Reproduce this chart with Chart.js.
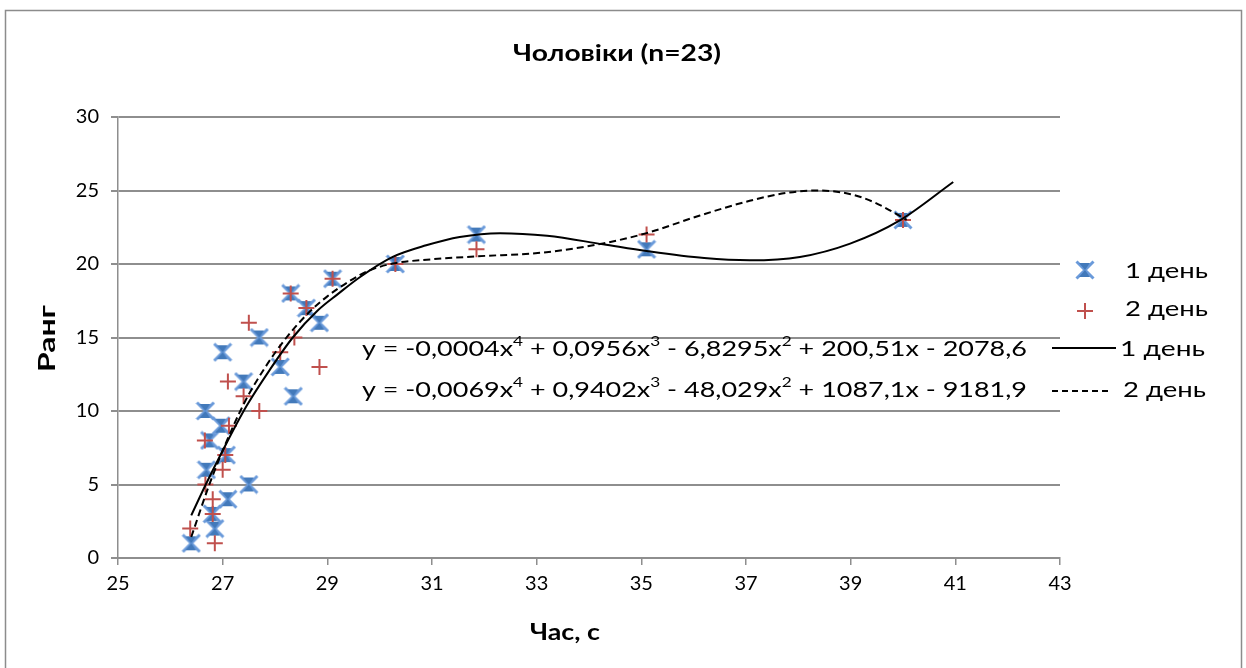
<!DOCTYPE html>
<html>
<head>
<meta charset="utf-8">
<script src="https://cdn.jsdelivr.net/npm/chart.js@4"></script>
<style>
  body { margin: 0; background: #fff; }
  #wrap { width: 1246px; height: 668px; }
</style>
</head>
<body>
<div id="wrap"><canvas id="chart" width="1246" height="668"></canvas></div>
<script>
// ранги 1..23, час у секундах
const ranks = [1,2,3,4,5,6,7,8,9,10,11,12,13,14,15,16,17,18,19,20,21,22,23];
const day1Time = [26.4, 26.85, 26.8, 27.1, 27.5, 26.69, 27.07, 26.75, 26.97, 26.67, 28.35, 27.4, 28.1, 27.0, 27.7, 28.85, 28.6, 28.3, 29.1, 30.3, 35.1, 31.85, 40.0];
const day2Time = [26.85, 26.38, 26.81, 26.81, 26.67, 27.0, 27.05, 26.66, 27.12, 27.7, 27.4, 27.1, 28.85, 28.1, 28.37, 27.5, 28.6, 28.3, 29.1, 30.3, 31.85, 35.1, 40.0];

// лінії тренду
const trend1X = [26.4, 26.67, 27.0, 27.45, 27.9, 28.34, 28.82, 29.2, 29.62, 30.25, 30.89, 31.53, 32.3, 33.2, 34.27, 35.1, 36.2, 37.07, 38.03, 38.99, 39.94, 40.96];
const trend1Y = [2.9, 4.95, 7.3, 10.3, 12.8, 15.0, 16.85, 17.95, 19.1, 20.48, 21.27, 21.84, 22.1, 21.92, 21.34, 20.88, 20.4, 20.25, 20.48, 21.39, 22.97, 25.58];
const trend2X = [26.4, 26.74, 27.0, 27.42, 27.8, 28.22, 28.69, 29.0, 29.43, 29.81, 30.25, 31.0, 31.85, 33.12, 34.27, 35.1, 36.12, 37.07, 37.8, 38.35, 39.0, 39.45, 39.8, 40.07];
const trend2Y = [1.43, 4.95, 7.3, 10.6, 12.9, 15.0, 16.85, 17.8, 18.85, 19.57, 20.03, 20.32, 20.52, 20.78, 21.4, 22.1, 23.3, 24.3, 24.85, 25.0, 24.75, 24.2, 23.55, 23.0];

const xTicks = [25, 43, 2];
const yTicks = [0, 30, 5];

const titleText = "Чоловіки (n=23)";
const xTitle = "Час, с";
const yTitle = "Ранг";
const legendNames = ["1 день", "2 день"];
const eq1 = ["y = -0,0004x", "4", " + 0,0956x", "3", " - 6,8295x", "2", " + 200,51x - 2078,6"];
const eq2 = ["y = -0,0069x", "4", " + 0,9402x", "3", " - 48,029x", "2", " + 1087,1x - 9181,9"];

const BLUE = "#4F81BD";
const RED = "#C0504D";
const GRID = "#8E8E8E";
const FONT = "Lato, 'Open Sans', sans-serif";

function pts(xs, ys){ return xs.map((x, i) => ({ x: x, y: ys[i] })); }

// маркер "X" як в Excel
function makeXMarker(){
  const c = document.createElement("canvas");
  c.width = 20; c.height = 20;
  const g = c.getContext("2d");
  g.strokeStyle = "#6A9ADA";
  g.lineWidth = 3;
  g.beginPath(); g.moveTo(1.5, 1.5); g.lineTo(18.5, 18.5); g.moveTo(18.5, 1.5); g.lineTo(1.5, 18.5); g.stroke();
  g.fillStyle = "#4279BA";
  g.beginPath(); g.moveTo(4, 3); g.lineTo(15, 3); g.lineTo(10, 10); g.closePath(); g.fill();
  g.beginPath(); g.moveTo(4, 17); g.lineTo(15, 17); g.lineTo(10, 10); g.closePath(); g.fill();
  return c;
}
const xMarker = makeXMarker();

// текст, розтягнутий до потрібної ширини
function fitText(ctx, text, x, y, width, font){
  ctx.font = font;
  const w = ctx.measureText(text).width;
  ctx.save();
  ctx.translate(x, y);
  ctx.scale(width / w, 1);
  ctx.fillText(text, 0, 0);
  ctx.restore();
}

function drawEq(ctx, parts, x, y, width){
  const big = "22px " + FONT, small = "14px " + FONT;
  let total = 0;
  parts.forEach((p, i) => { ctx.font = i % 2 ? small : big; total += ctx.measureText(p).width; });
  ctx.save();
  ctx.translate(x, y);
  ctx.scale(width / total, 1);
  let cx = 0;
  parts.forEach((p, i) => {
    ctx.font = i % 2 ? small : big;
    ctx.fillText(p, cx, i % 2 ? -8 : 0);
    cx += ctx.measureText(p).width;
  });
  ctx.restore();
}

const decor = {
  id: "decor",
  afterDraw(chart){
    const ctx = chart.ctx;
    ctx.save();
    // рамка
    ctx.strokeStyle = "#8C8C8C";
    ctx.lineWidth = 1.5;
    ctx.strokeRect(5.5, 10.5, 1236, 700);

    ctx.fillStyle = "#000";
    ctx.textBaseline = "middle";
    ctx.textAlign = "left";
    fitText(ctx, titleText, 513, 54, 208, "bold 23px " + FONT);
    fitText(ctx, xTitle, 530, 633, 70, "bold 23px " + FONT);
    ctx.save();
    ctx.translate(48, 372);
    ctx.rotate(-Math.PI / 2);
    fitText(ctx, yTitle, 0, 0, 67, "bold 23px " + FONT);
    ctx.restore();

    // рівняння
    drawEq(ctx, eq1, 362, 349, 665);
    drawEq(ctx, eq2, 362, 390, 665);

    // легенда
    ctx.drawImage(xMarker, 1075, 260);
    ctx.strokeStyle = RED; ctx.lineWidth = 2;
    ctx.beginPath(); ctx.moveTo(1077, 311); ctx.lineTo(1093, 311); ctx.moveTo(1085, 303); ctx.lineTo(1085, 319); ctx.stroke();
    fitText(ctx, legendNames[0], 1125, 271, 83, "22px " + FONT);
    fitText(ctx, legendNames[1], 1125, 309, 83, "22px " + FONT);

    ctx.strokeStyle = "#000"; ctx.lineWidth = 2;
    ctx.beginPath(); ctx.moveTo(1052, 348); ctx.lineTo(1116, 348); ctx.stroke();
    ctx.setLineDash([6, 4]);
    ctx.beginPath(); ctx.moveTo(1052, 391); ctx.lineTo(1112, 391); ctx.stroke();
    ctx.setLineDash([]);
    fitText(ctx, legendNames[0], 1120, 349, 85, "22px " + FONT);
    fitText(ctx, legendNames[1], 1123, 390, 83, "22px " + FONT);
    ctx.restore();
  }
};

new Chart(document.getElementById("chart"), {
  type: "scatter",
  data: {
    datasets: [
      {
        label: legendNames[0] + " тренд",
        type: "line",
        data: pts(trend1X, trend1Y),
        borderColor: "#000",
        borderWidth: 2,
        pointRadius: 0,
        cubicInterpolationMode: "monotone",
        fill: false,
        order: 0
      },
      {
        label: legendNames[1] + " тренд",
        type: "line",
        data: pts(trend2X, trend2Y),
        borderColor: "#000",
        borderWidth: 2,
        borderDash: [7, 4],
        pointRadius: 0,
        cubicInterpolationMode: "monotone",
        fill: false,
        order: 0
      },
      {
        label: legendNames[1],
        data: pts(day2Time, ranks),
        pointStyle: "cross",
        pointRadius: 8,
        borderColor: RED,
        backgroundColor: RED,
        borderWidth: 2,
        order: 1
      },
      {
        label: legendNames[0],
        data: pts(day1Time, ranks),
        pointStyle: xMarker,
        order: 2
      }
    ]
  },
  options: {
    responsive: false,
    animation: false,
    layout: { padding: { left: 20, top: 117, right: 186, bottom: 20 } },
    plugins: {
      legend: { display: false },
      tooltip: { enabled: false },
      title: { display: false }
    },
    scales: {
      x: {
        type: "linear",
        min: xTicks[0], max: xTicks[1],
        ticks: { stepSize: xTicks[2], color: "#000", font: { family: FONT, size: 20 }, padding: 7 },
        grid: { drawOnChartArea: false, color: GRID, tickLength: 7, lineWidth: 1.5 },
        border: { color: GRID, width: 2 },
        afterFit(s){ s.height = 90; }
      },
      y: {
        min: yTicks[0], max: yTicks[1],
        ticks: { stepSize: yTicks[2], color: "#000", font: { family: FONT, size: 20 }, padding: 12 },
        grid: { color: GRID, lineWidth: 2, tickLength: 7 },
        border: { color: GRID, width: 1.5 },
        afterFit(s){ s.width = 98; }
      }
    }
  },
  plugins: [decor]
});
</script>
</body>
</html>
